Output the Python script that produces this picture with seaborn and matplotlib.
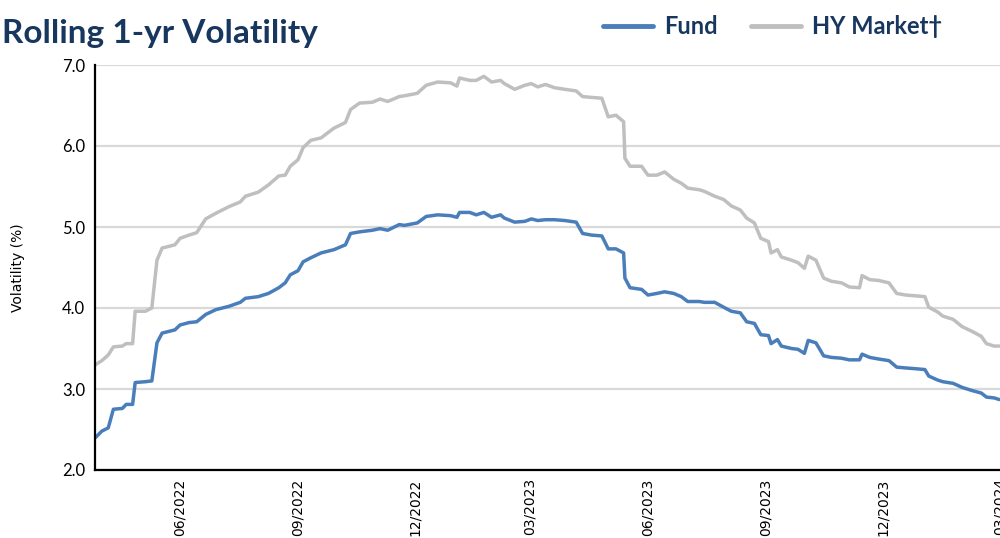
import matplotlib
matplotlib.use("Agg")
import matplotlib.pyplot as plt
import matplotlib.dates as mdates
from matplotlib.lines import Line2D
import seaborn as sns
import pandas as pd

# ---------------- data ----------------
dates = [
    "2022-03-27", "2022-04-01", "2022-04-06", "2022-04-10", "2022-04-17", "2022-04-20",
    "2022-04-25", "2022-04-27", "2022-05-05", "2022-05-10", "2022-05-14", "2022-05-18",
    "2022-05-28", "2022-06-01", "2022-06-08", "2022-06-14", "2022-06-21", "2022-06-29",
    "2022-07-09", "2022-07-18", "2022-07-22", "2022-08-01", "2022-08-09", "2022-08-17",
    "2022-08-22", "2022-08-26", "2022-09-01", "2022-09-05", "2022-09-11", "2022-09-19",
    "2022-09-29", "2022-10-08", "2022-10-12", "2022-10-19", "2022-10-29", "2022-11-04",
    "2022-11-10", "2022-11-19", "2022-11-23", "2022-12-03", "2022-12-10", "2022-12-19",
    "2022-12-29", "2023-01-03", "2023-01-05", "2023-01-13", "2023-01-18", "2023-01-24",
    "2023-01-30", "2023-02-06", "2023-02-09", "2023-02-17", "2023-02-25", "2023-03-02",
    "2023-03-07", "2023-03-13", "2023-03-20", "2023-03-28", "2023-04-06", "2023-04-11",
    "2023-04-18", "2023-04-26", "2023-05-01", "2023-05-07", "2023-05-13", "2023-05-14",
    "2023-05-18", "2023-05-27", "2023-06-01", "2023-06-08", "2023-06-14", "2023-06-21",
    "2023-06-27", "2023-07-02", "2023-07-11", "2023-07-15", "2023-07-23", "2023-07-30",
    "2023-08-05", "2023-08-12", "2023-08-17", "2023-08-23", "2023-08-28", "2023-09-03",
    "2023-09-05", "2023-09-10", "2023-09-13", "2023-09-21", "2023-09-26", "2023-10-01",
    "2023-10-04", "2023-10-10", "2023-10-16", "2023-10-22", "2023-10-30", "2023-11-05",
    "2023-11-13", "2023-11-15", "2023-11-21", "2023-11-28", "2023-12-06", "2023-12-12",
    "2023-12-19", "2023-12-27", "2024-01-03", "2024-01-06", "2024-01-13", "2024-01-17",
    "2024-01-25", "2024-02-01", "2024-02-09", "2024-02-16", "2024-02-20", "2024-02-26",
    "2024-03-01",
]

fund = [
    2.40, 2.48, 2.52, 2.75, 2.76, 2.81, 2.81, 3.08, 3.09, 3.10, 3.57, 3.69,
    3.73, 3.79, 3.82, 3.83, 3.92, 3.98, 4.02, 4.07, 4.12, 4.14, 4.18, 4.25,
    4.31, 4.41, 4.46, 4.57, 4.62, 4.68, 4.72, 4.78, 4.92, 4.94, 4.96, 4.98,
    4.96, 5.03, 5.02, 5.05, 5.13, 5.15, 5.14, 5.12, 5.18, 5.18, 5.15, 5.18,
    5.12, 5.15, 5.11, 5.06, 5.07, 5.10, 5.08, 5.09, 5.09, 5.08, 5.06, 4.92,
    4.90, 4.89, 4.73, 4.73, 4.68, 4.37, 4.25, 4.23, 4.16, 4.18, 4.20, 4.18,
    4.14, 4.08, 4.08, 4.07, 4.07, 4.01, 3.96, 3.94, 3.83, 3.81, 3.67, 3.66,
    3.56, 3.61, 3.53, 3.50, 3.49, 3.44, 3.60, 3.57, 3.41, 3.39, 3.38, 3.36,
    3.36, 3.43, 3.39, 3.37, 3.35, 3.27, 3.26, 3.25, 3.24, 3.16, 3.11, 3.09,
    3.07, 3.02, 2.98, 2.95, 2.90, 2.89, 2.87,
]

hy_market = [
    3.30, 3.35, 3.42, 3.52, 3.53, 3.56, 3.56, 3.96, 3.96, 4.00, 4.59, 4.74,
    4.78, 4.86, 4.90, 4.93, 5.10, 5.17, 5.25, 5.31, 5.38, 5.43, 5.52, 5.63,
    5.64, 5.75, 5.83, 5.98, 6.07, 6.10, 6.22, 6.29, 6.45, 6.53, 6.54, 6.58,
    6.55, 6.61, 6.62, 6.65, 6.75, 6.79, 6.78, 6.74, 6.84, 6.81, 6.81, 6.86,
    6.79, 6.81, 6.77, 6.70, 6.75, 6.77, 6.73, 6.76, 6.72, 6.70, 6.68, 6.61,
    6.60, 6.59, 6.36, 6.38, 6.30, 5.85, 5.75, 5.75, 5.64, 5.64, 5.68, 5.59,
    5.54, 5.48, 5.46, 5.44, 5.38, 5.34, 5.26, 5.21, 5.11, 5.05, 4.86, 4.82,
    4.68, 4.72, 4.63, 4.59, 4.56, 4.49, 4.64, 4.59, 4.37, 4.33, 4.31, 4.26,
    4.25, 4.40, 4.35, 4.34, 4.31, 4.18, 4.16, 4.15, 4.14, 4.01, 3.95, 3.90,
    3.86, 3.77, 3.71, 3.65, 3.56, 3.53, 3.53,
]

series_names = ["Fund", "HY Market\u2020"]
y_ticks = [2.0, 3.0, 4.0, 5.0, 6.0, 7.0]
title_text = "Rolling 1-yr Volatility"
y_label = "Volatility (%)"

# ---------------- styling ----------------
sns.set_theme(style="white")
plt.rcParams["font.family"] = ["DejaVu Sans"]

NAVY = "#17375E"
colors = {series_names[0]: "#4A7EBB", series_names[1]: "#BFBFBF"}

df = pd.DataFrame({"date": pd.to_datetime(dates),
                   series_names[0]: fund,
                   series_names[1]: hy_market})
long_df = df.melt(id_vars="date", var_name="series", value_name="vol")

fig = plt.figure(figsize=(10, 5.38), dpi=100)
ax = fig.add_axes([0.095, 1 - 470 / 538, 0.905, (470 - 65) / 538])

sns.lineplot(data=long_df, x="date", y="vol", hue="series",
             hue_order=[series_names[1], series_names[0]],
             palette=colors, linewidth=2.5, ax=ax, legend=False)

ax.set_ylim(2.0, 7.0)
ax.set_yticks(y_ticks)
ax.set_yticklabels([f"{v:.1f}" for v in y_ticks], family=["Lato", "DejaVu Sans"], fontsize=12)
ax.set_xlim(pd.Timestamp("2022-03-26 16:00"), pd.Timestamp("2024-03-01 14:00"))
ax.xaxis.set_major_locator(mdates.MonthLocator(bymonth=[3, 6, 9, 12]))
ax.xaxis.set_major_formatter(mdates.DateFormatter("%m/%Y"))
for lbl in ax.get_xticklabels():
    lbl.set_rotation(90)
    lbl.set_fontsize(10)

ax.set_xlabel("")
ax.set_ylabel("")
ax.grid(axis="y", color="#D9D9D9", linewidth=1.6)
ax.grid(axis="x", visible=False)
ax.set_axisbelow(True)

for side in ["top", "right"]:
    ax.spines[side].set_visible(False)
for side in ["left", "bottom"]:
    ax.spines[side].set_color("black")
    ax.spines[side].set_linewidth(1.6)

ax.tick_params(axis="y", direction="out", length=5, width=1, color="black", pad=2, labelcolor="black")
ax.tick_params(axis="x", direction="in", length=5, width=1, color="#444444", pad=6, labelcolor="black")

fig.text(0.018, 1 - 268 / 538, y_label, rotation=90, ha="center", va="center",
         fontsize=10, color="black")

fig.text(0.002, 1 - 33 / 538, title_text, fontsize=24, fontweight="bold",
         family=["Lato", "DejaVu Sans"], color=NAVY, ha="left", va="center")

handles = [Line2D([0], [0], color=colors[n], linewidth=3.5) for n in series_names]
fig.legend(handles, series_names, loc="center left",
           bbox_to_anchor=(0.603, 1 - 27 / 538), ncol=2, frameon=False,
           prop={"family": ["Lato", "DejaVu Sans"], "weight": "bold", "size": 17},
           labelcolor=NAVY, handlelength=2.1, handletextpad=0.5,
           columnspacing=1.4, borderpad=0, borderaxespad=0)

fig.savefig("out.png", dpi=100)
